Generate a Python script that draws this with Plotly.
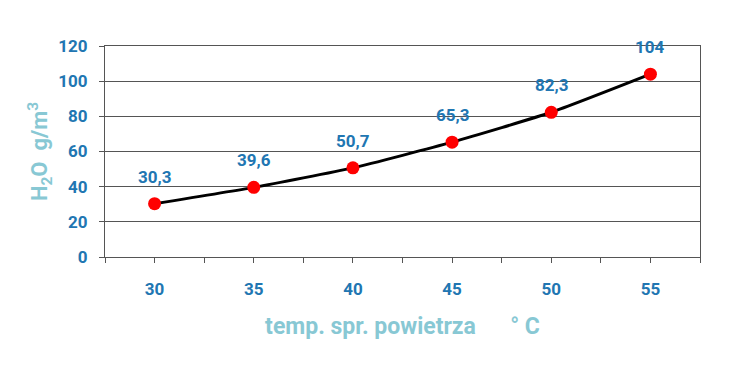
import plotly.graph_objects as go

temps = [30, 35, 40, 45, 50, 55]
water = [30.3, 39.6, 50.7, 65.3, 82.3, 104]
labels = ["30,3", "39,6", "50,7", "65,3", "82,3", "104"]
y_ticks = [0, 20, 40, 60, 80, 100, 120]

blue = "#2176b2"
teal = "#88c8d4"
font = "Roboto"

fig = go.Figure()
fig.add_trace(go.Scatter(
    x=temps, y=water, mode="lines+markers",
    line=dict(color="black", width=3, shape="spline", smoothing=0.5),
    marker=dict(color="#ff0000", size=13),
    cliponaxis=False, hoverinfo="skip",
))

for t, w, lab in zip(temps, water, labels):
    fig.add_annotation(x=t, y=w, text=lab, showarrow=False, yshift=27,
                       font=dict(family=font, size=17, color=blue, weight="bold"))

fig.update_layout(
    width=730, height=369,
    margin=dict(l=97, r=38, t=38, b=120),
    plot_bgcolor="white", paper_bgcolor="white",
    showlegend=False,
    xaxis=dict(
        range=[27.5, 57.5], tickvals=temps, ticktext=[str(t) for t in temps],
        showgrid=False, zeroline=False,
        showline=True, linecolor="#555555", linewidth=1, mirror=True,
        ticks="outside", ticklen=5, tickcolor="#555555",
        minor=dict(ticks="outside", ticklen=5, tickcolor="#555555", dtick=2.5, tick0=27.5),
        tickfont=dict(family=font, size=17, color=blue, weight="bold"),
        ticklabelstandoff=12,
        title=dict(text="temp. spr. powietrza&nbsp;&nbsp;&nbsp;&nbsp;&nbsp;&nbsp;° C", standoff=19,
                   font=dict(family=font, size=23, color=teal, weight="bold")),
    ),
    yaxis=dict(
        range=[0, 120], tickvals=y_ticks,
        showgrid=True, gridcolor="#555555", gridwidth=1, zeroline=False,
        showline=True, linecolor="#555555", linewidth=1, mirror=True,
        ticks="outside", ticklen=5, tickcolor="#555555",
        tickfont=dict(family=font, size=17, color=blue, weight="bold"),
        ticklabelstandoff=8,
        title=dict(text="H<sub>2</sub>O&nbsp;&nbsp;g/m<sup>3</sup>", standoff=4,
                   font=dict(family=font, size=22, color=teal, weight="bold")),
    ),
)

fig.write_html("out.html")
